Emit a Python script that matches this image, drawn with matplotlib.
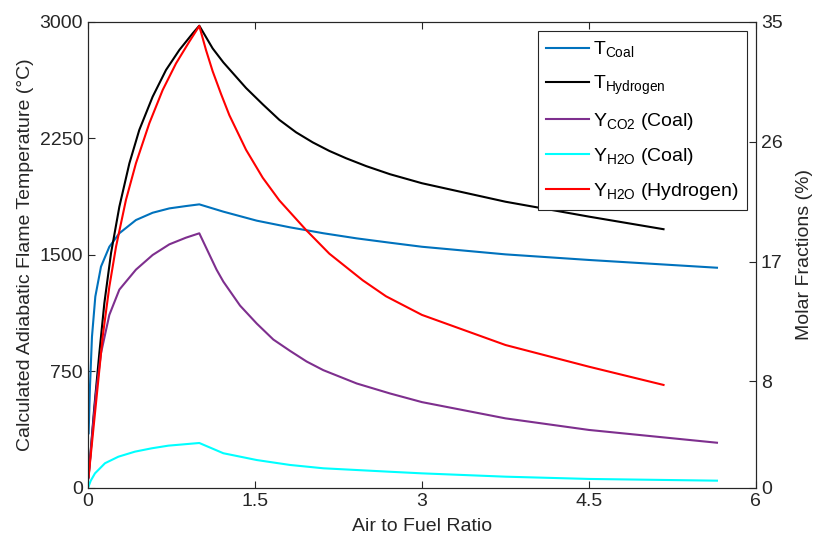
import matplotlib
matplotlib.use("Agg")
import matplotlib.pyplot as plt

plt.rcParams['font.family'] = ['Liberation Sans', 'DejaVu Sans']
plt.rcParams['mathtext.fontset'] = 'custom'
plt.rcParams['mathtext.rm'] = 'Liberation Sans'
plt.rcParams['mathtext.it'] = 'Liberation Sans'

# Data
x_tcoal = [0.006, 0.018, 0.036, 0.066, 0.117, 0.192, 0.282, 0.431, 0.581, 0.731, 0.880, 1.0,
           1.216, 1.516, 1.815, 1.95, 2.114, 2.414, 2.713, 3.0, 3.75, 4.5, 5.65]
t_coal = [352, 652, 974, 1232, 1425, 1553, 1640, 1725, 1772, 1800, 1815, 1826,
          1779, 1721, 1678, 1661, 1640, 1607, 1579, 1553, 1504, 1468, 1418]

x_th = [0.005, 0.057, 0.102, 0.147, 0.207, 0.282, 0.372, 0.461, 0.581, 0.701, 0.821, 0.941, 1.0,
        1.120, 1.216, 1.420, 1.570, 1.719, 1.869, 2.019, 2.168, 2.318, 2.500, 2.713, 3.0,
        3.75, 4.5, 5.17]
t_h = [70, 520, 867, 1189, 1511, 1811, 2090, 2305, 2519, 2691, 2820, 2927, 2976,
       2830, 2740, 2575, 2470, 2370, 2290, 2225, 2170, 2123, 2072, 2020, 1962,
       1843, 1747, 1666]

x_co2 = [0.005, 0.042, 0.072, 0.117, 0.192, 0.282, 0.431, 0.581, 0.731, 0.880, 1.0,
         1.155, 1.216, 1.366, 1.516, 1.665, 1.815, 1.964, 2.114, 2.414, 2.713, 3.0, 3.75, 4.5, 5.65]
y_co2 = [0.73, 4.4, 7.11, 10.12, 13.0, 14.9, 16.4, 17.5, 18.3, 18.8, 19.13,
         16.4, 15.5, 13.7, 12.35, 11.15, 10.3, 9.5, 8.85, 7.85, 7.1, 6.45, 5.23, 4.36, 3.40]

x_h2o_c = [0.0, 0.025, 0.063, 0.153, 0.273, 0.422, 0.572, 0.722, 1.0,
           1.216, 1.516, 1.815, 2.114, 2.414, 2.713, 3.0, 3.75, 4.5, 5.65]
y_h2o_c = [0.0, 0.55, 1.1, 1.86, 2.35, 2.73, 2.98, 3.18, 3.38,
           2.61, 2.10, 1.73, 1.48, 1.35, 1.22, 1.10, 0.85, 0.68, 0.55]

x_h2o_h = [0.005, 0.087, 0.132, 0.192, 0.252, 0.341, 0.431, 0.551, 0.671, 0.791, 0.910, 1.0,
           1.060, 1.120, 1.195, 1.270, 1.420, 1.570, 1.719, 1.959, 2.168, 2.468, 2.677, 3.0,
           3.75, 4.5, 5.17]
y_h2o_h = [0.8, 7.61, 11.36, 15.12, 18.12, 21.63, 24.39, 27.39, 29.89, 31.89, 33.52, 34.7,
           32.9, 31.3, 29.6, 28.0, 25.4, 23.3, 21.6, 19.38, 17.6, 15.6, 14.4, 13.0,
           10.74, 9.11, 7.74]

xticks = [0, 1.5, 3, 4.5, 6]
xticklabels = ['0', '1.5', '3', '4.5', '6']
yticks_left = [0, 750, 1500, 2250, 3000]
yticks_right = [0, 8, 17, 26, 35]

dark = '#262626'
fig = plt.figure(figsize=(8.13, 5.43), dpi=100)
ax = fig.add_axes([0.1082, 0.1013, 0.8216, 0.8582])
ax2 = ax.twinx()

lw = 1.5
l1, = ax.plot(x_tcoal, t_coal, color='#0072BD', lw=lw, label=r'T$_{\mathrm{Coal}}$')
l2, = ax.plot(x_th, t_h, color='black', lw=lw, label=r'T$_{\mathrm{Hydrogen}}$')
l3, = ax2.plot(x_co2, y_co2, color='#7E2F8E', lw=lw, label=r'Y$_{\mathrm{CO2}}$ (Coal)')
l4, = ax2.plot(x_h2o_c, y_h2o_c, color='#00FFFF', lw=lw, label=r'Y$_{\mathrm{H2O}}$ (Coal)')
l5, = ax2.plot(x_h2o_h, y_h2o_h, color='#FF0000', lw=lw, label=r'Y$_{\mathrm{H2O}}$ (Hydrogen)')

ax.set_xlim(0, 6)
ax.set_ylim(0, 3000)
ax2.set_ylim(0, 35)
ax.set_xticks(xticks)
ax.set_xticklabels(xticklabels)
ax.set_yticks(yticks_left)
ax2.set_yticks(yticks_right)

fs = 14
for a in (ax, ax2):
    for s in a.spines.values():
        s.set_color(dark)
        s.set_linewidth(0.8)
ax.tick_params(axis='both', direction='in', length=5, width=0.8, color=dark,
               labelsize=fs, labelcolor=dark, top=True, right=False)
ax2.tick_params(axis='y', direction='in', length=5, width=0.8, color=dark,
                labelsize=fs, labelcolor=dark)
ax.set_xlabel('Air to Fuel Ratio', fontsize=fs, color=dark, labelpad=6)
ax.set_ylabel('Calculated Adiabatic Flame Temperature (°C)', fontsize=fs, color=dark, labelpad=4)
ax2.set_ylabel('Molar Fractions (%)', fontsize=fs, color=dark, labelpad=10)

leg = ax2.legend(handles=[l1, l2, l3, l4, l5], loc='upper right', fontsize=fs,
                 frameon=True, fancybox=False, framealpha=1, edgecolor=dark,
                 handlelength=2.2, handletextpad=0.2, labelspacing=0.72,
                 borderaxespad=0.45, borderpad=0.45)
leg.get_frame().set_linewidth(0.8)

fig.savefig('out.png', dpi=100)
